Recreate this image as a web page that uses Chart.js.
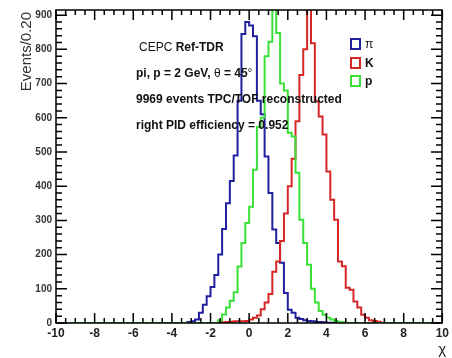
<!DOCTYPE html>
<html><head><meta charset="utf-8">
<script src="https://cdn.jsdelivr.net/npm/chart.js@4/dist/chart.umd.min.js"></script>
<style>html,body{margin:0;padding:0;background:#fff;overflow:hidden}</style>
</head><body>
<canvas id="c" width="452" height="358"></canvas>
<script>
// ---- data (bin width 0.2) ----
const xMin = -10, xMax = 10, binWidth = 0.2;
const yMax = 915;
const yTickValues = [0,100,200,300,400,500,600,700,800,900];
const xTickValues = [-10,-8,-6,-4,-2,0,2,4,6,8,10];

const piStart = -3.2;
const piCounts = [3,5,10,30,53,78,105,140,200,275,350,415,490,650,845,880,870,838,650,610,487,380,273,234,176,88,39,30,15,12,8,6,5,3,3,2,1,1];

const kStart = -1.6;
const kCounts = [2,2,3,4,5,5,5,6,10,15,22,40,60,85,150,180,240,320,400,480,590,725,800,960,818,648,604,551,443,360,302,180,166,103,97,63,45,24,15,8,6,4,1];

const pStart = -1.6;
const pCounts = [8,25,45,65,90,165,234,292,340,448,573,600,780,822,960,848,700,680,556,545,439,302,234,170,100,60,35,24,15,10,6,3,2];

const legendLabels = ['\u03c0','K','p'];
const colors = {pi:'#1f1fa0', k:'#d62626', p:'#38e038'};

// build step-histogram points over the full range (empty bins are 0)
function histPoints(start, counts){
  const n = Math.round((xMax - xMin)/binWidth);
  const pts = [];
  for(let i=0;i<=n;i++){
    const x = +(xMin + i*binWidth).toFixed(2);
    const j = Math.round((x - start)/binWidth);
    const v = (i<n && j>=0 && j<counts.length) ? counts[j] : 0;
    pts.push({x:x, y:v});
  }
  return pts;
}

const decor = {
  id:'decor',
  afterDraw(chart){
    const ctx = chart.ctx, a = chart.chartArea;
    const xs = chart.scales.x, ys = chart.scales.y;
    ctx.save();
    const L0 = Math.round(a.left), R0 = Math.round(a.right), T0 = Math.round(a.top), B0 = Math.round(a.bottom);
    // frame
    ctx.strokeStyle = '#000';
    ctx.lineWidth = 1.5;
    ctx.strokeRect(L0, T0, R0-L0, B0-T0);
    // ticks
    ctx.beginPath();
    for(let v=0; v<=yMax; v+=20){
      const y = ys.getPixelForValue(v);
      const L = (v%100===0)?11:6;
      ctx.moveTo(L0, y); ctx.lineTo(L0+L, y);
      ctx.moveTo(R0, y); ctx.lineTo(R0-L, y);
    }
    for(let k=0; k<=40; k++){
      const v = xMin + k*0.5;
      const x = xs.getPixelForValue(v);
      const L = (k%4===0)?10:5;
      ctx.moveTo(x, B0); ctx.lineTo(x, B0-L);
      ctx.moveTo(x, T0); ctx.lineTo(x, T0+L);
    }
    ctx.stroke();

    // axis titles
    ctx.fillStyle = '#333';
    ctx.font = '15px "Liberation Sans", Arial, sans-serif';
    ctx.save();
    ctx.translate(31, 12); ctx.rotate(-Math.PI/2);
    ctx.textAlign='right'; ctx.textBaseline='alphabetic';
    ctx.fillText('Events/0.20', 0, 0);
    ctx.restore();
    ctx.fillStyle = '#222';
    ctx.font = '15px "Liberation Sans", Arial, sans-serif';
    ctx.textAlign='right';
    ctx.fillText('\u03c7', 446, 354);

    // annotation text
    ctx.textAlign='left'; ctx.fillStyle='#111';
    let x0 = 139;
    ctx.font = '12px "Liberation Sans", Arial, sans-serif';
    ctx.fillText('CEPC ', x0, 51);
    const w1 = ctx.measureText('CEPC ').width;
    ctx.font = 'bold 12px "Liberation Sans", Arial, sans-serif';
    ctx.fillText('Ref-TDR', x0+w1, 51);

    x0 = 136;
    const segs = [['pi, p = 2 GeV, ', true],['\u03b8',false],[' = 45',true],['\u00b0',false]];
    let xx = x0;
    for(const [t,b] of segs){
      ctx.font = (b?'bold ':'') + '12px "Liberation Sans", Arial, sans-serif';
      ctx.fillText(t, xx, 77);
      xx += ctx.measureText(t).width;
    }
    ctx.font = 'bold 12px "Liberation Sans", Arial, sans-serif';
    ctx.fillText('9969 events TPC/TOF reconstructed', x0, 103);
    ctx.fillText('right PID efficiency = 0.952', x0, 129);

    // legend
    const lc = [colors.pi, colors.k, colors.p];
    const ly = [38, 57, 75];
    for(let i=0;i<3;i++){
      ctx.strokeStyle = lc[i]; ctx.lineWidth = 2;
      ctx.strokeRect(351, ly[i]+1, 9, 10);
      ctx.fillStyle='#111';
      ctx.font = (i===0?'':'bold ') + '12px "Liberation Sans", Arial, sans-serif';
      ctx.fillText(legendLabels[i], 365, ly[i]+10);
    }
    ctx.restore();
  }
};

new Chart(document.getElementById('c'), {
  type:'line',
  data:{datasets:[
    {label:'p', data:histPoints(pStart,pCounts), borderColor:colors.p, borderWidth:2, stepped:'before', pointRadius:0, fill:false},
    {label:'K', data:histPoints(kStart,kCounts), borderColor:colors.k, borderWidth:2, stepped:'before', pointRadius:0, fill:false},
    {label:'\u03c0', data:histPoints(piStart,piCounts), borderColor:colors.pi, borderWidth:2, stepped:'before', pointRadius:0, fill:false}
  ]},
  options:{
    responsive:false, animation:false, devicePixelRatio:1,
    layout:{padding:{left:0,right:6,top:10,bottom:0}},
    plugins:{legend:{display:false}, tooltip:{enabled:false}},
    scales:{
      x:{type:'linear', min:xMin, max:xMax,
         afterBuildTicks:s=>{s.ticks = xTickValues.map(v=>({value:v}));},
         afterFit:s=>{s.height=35;},
         grid:{display:false, drawTicks:false}, border:{display:false},
         ticks:{padding:3, color:'#222', maxRotation:0, autoSkip:false,
                font:{family:'"Liberation Sans", Arial, sans-serif', size:12, weight:'bold'}}},
      y:{type:'linear', min:0, max:yMax,
         afterBuildTicks:s=>{s.ticks = yTickValues.map(v=>({value:v}));},
         afterFit:s=>{s.width=56;},
         grid:{display:false, drawTicks:false}, border:{display:false},
         ticks:{padding:4, color:'#333',
                font:{family:'"Liberation Sans", Arial, sans-serif', size:10, weight:'bold'}}}
    }
  },
  plugins:[decor]
});
</script>
</body></html>
